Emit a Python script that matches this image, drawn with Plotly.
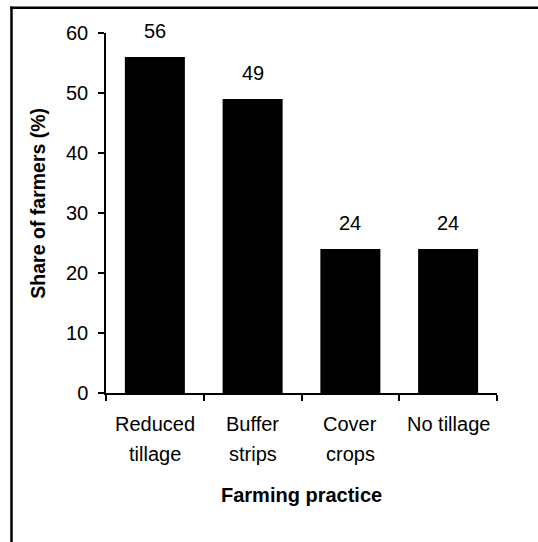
import plotly.graph_objects as go

categories = ["Reduced tillage", "Buffer strips", "Cover crops", "No tillage"]
label_line1 = ["Reduced", "Buffer", "Cover", "No tillage"]
label_line2 = ["tillage", "strips", "crops", ""]
values = [56, 49, 24, 24]
y_ticks = [0, 10, 20, 30, 40, 50, 60]

FONT = "Arial, Liberation Sans, sans-serif"
FS = 20

fig = go.Figure()
fig.add_trace(go.Bar(
    x=categories, y=values, width=0.614,
    marker=dict(color="black", line=dict(width=0)),
    hoverinfo="skip",
))

ann = []
for c, v in zip(categories, values):
    ann.append(dict(x=c, y=v, xref="x", yref="y", text=str(v), showarrow=False,
                    yanchor="bottom", yshift=13, font=dict(size=FS, color="black", family=FONT)))
for c, l1, l2 in zip(categories, label_line1, label_line2):
    ann.append(dict(x=c, y=0, xref="x", yref="paper", text=l1, showarrow=False,
                    yanchor="middle", yshift=-31, font=dict(size=FS, color="black", family=FONT)))
    if l2:
        ann.append(dict(x=c, y=0, xref="x", yref="paper", text=l2, showarrow=False,
                        yanchor="middle", yshift=-61, font=dict(size=FS, color="black", family=FONT)))
ann.append(dict(x=0.5, y=0, xref="paper", yref="paper", text="<b>Farming practice</b>", showarrow=False,
                yanchor="middle", yshift=-102, font=dict(size=FS, color="black", family=FONT)))
ann.append(dict(x=0, y=0.526, xref="paper", yref="paper", text="<b>Share of farmers (%)</b>", showarrow=False,
                textangle=-90, xanchor="center", xshift=-68, font=dict(size=19.5, color="black", family=FONT)))

fig.update_layout(
    width=538, height=542,
    margin=dict(l=106, r=41, t=33, b=149),
    paper_bgcolor="white", plot_bgcolor="white",
    showlegend=False,
    font=dict(family=FONT, size=FS, color="black"),
    annotations=ann,
    shapes=[
        dict(type="line", xref="paper", yref="paper", x0=-0.2417, x1=-0.2417, y0=-0.5, y1=1.0738,
             line=dict(color="black", width=2.5), layer="above"),
        dict(type="line", xref="paper", yref="paper", x0=-0.2449, x1=1.1049, y0=1.0703, y1=1.0703,
             line=dict(color="black", width=2.5), layer="above"),
    ],
    xaxis=dict(range=[-0.5, 3.5], showticklabels=False, ticks="outside", ticklen=6, tickwidth=1.5,
               tickcolor="black", tickson="boundaries", showline=True, linecolor="black", linewidth=1.5,
               showgrid=False, zeroline=False, fixedrange=True),
    yaxis=dict(range=[0, 60], tickvals=y_ticks, ticks="outside", ticklen=6, tickwidth=1.5,
               tickcolor="black", showline=True, linecolor="black", linewidth=1.5,
               showgrid=False, zeroline=False, ticklabelstandoff=6,
               tickfont=dict(size=FS, color="black", family=FONT), fixedrange=True),
)

fig.write_html("out.html", config={"displayModeBar": False},
               post_script="document.documentElement.style.overflow='hidden';"
                           "document.body.style.margin='0';document.body.style.overflow='hidden';")
